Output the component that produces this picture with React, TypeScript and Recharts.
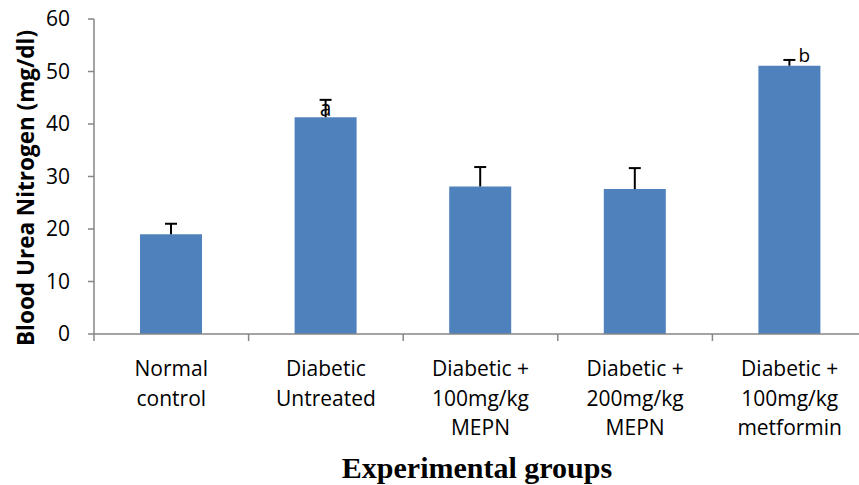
import React from "react";
import { BarChart, Bar, XAxis, YAxis } from "recharts";

const categories = [
  "Normal\ncontrol",
  "Diabetic\nUntreated",
  "Diabetic +\n100mg/kg\nMEPN",
  "Diabetic +\n200mg/kg\nMEPN",
  "Diabetic +\n100mg/kg\nmetformin",
];
const bunValues = [19.0, 41.3, 28.1, 27.6, 51.1];
const bunErrors = [2.0, 3.3, 3.7, 4.0, 1.1];
const sigLabels = ["", "a", "", "", "b"];
const yTicks = [0, 10, 20, 30, 40, 50, 60];

const data = categories.map((name, i) => ({
  name,
  value: bunValues[i],
  err: bunErrors[i],
  sig: sigLabels[i],
}));

const FONT = "'Open Sans', sans-serif";
const AXIS_COLOR = "#868686";

const CategoryTick = (props: any) => {
  const { x, y, payload, index, width, visibleTicksCount } = props;
  const lines = String(payload.value).split("\n");
  const half = width / visibleTicksCount / 2;
  const axisY = y - 8;
  return (
    <g>
      <line x1={x - half} y1={axisY} x2={x - half} y2={axisY + 7} stroke={AXIS_COLOR} strokeWidth={1.5} />
      {index === visibleTicksCount - 1 && (
        <line x1={x + half} y1={axisY} x2={x + half} y2={axisY + 7} stroke={AXIS_COLOR} strokeWidth={1.5} />
      )}
      <text x={x} y={y} textAnchor="middle" fontFamily={FONT} fontSize={21} fill="#000">
        {lines.map((l, i) => (
          <tspan key={i} x={x} y={y + 34 + i * 29.5}>
            {l}
          </tspan>
        ))}
      </text>
    </g>
  );
};

const ErrorShape = (props: any) => {
  const { x, y, width, height, payload } = props;
  const cx = x + width / 2;
  const base = y + height;
  const sig = payload.sig;
  return (
    <g>
      <line x1={cx} y1={base} x2={cx} y2={y} stroke="#000" strokeWidth={2} />
      <line x1={cx - 6} y1={y} x2={cx + 6} y2={y} stroke="#000" strokeWidth={2} />
      {sig === "a" && (
        <text x={cx} y={base - 1} textAnchor="middle" fontFamily={FONT} fontSize={21} fill="#000">
          {sig}
        </text>
      )}
      {sig === "b" && (
        <text x={cx + 9} y={y + 2} textAnchor="start" fontFamily={FONT} fontSize={19} fill="#000">
          {sig}
        </text>
      )}
    </g>
  );
};

const YTitle = () => (
  <text
    x={17}
    y={180}
    transform="rotate(-90 17 180)"
    textAnchor="middle"
    dominantBaseline="central"
    fontFamily={FONT}
    fontWeight="bold"
    fontSize={22.5}
    fill="#000"
  >
    Blood Urea Nitrogen (mg/dl)
  </text>
);

const XTitle = () => (
  <text
    x={469}
    y={470}
    textAnchor="middle"
    fontFamily="'Liberation Serif', 'Times New Roman', serif"
    fontWeight="bold"
    fontSize={30}
    fill="#000"
  >
    Experimental groups
  </text>
);

export default function App() {
  return (
    <div
      style={{
        position: "absolute",
        left: 8,
        top: 8,
        width: 851,
        height: 477,
        overflow: "hidden",
        background: "#fff",
      }}
    >
      <BarChart
        width={880}
        height={477}
        data={data}
        margin={{ top: 11, right: 21, left: 0, bottom: 0 }}
      >
        <XAxis
          dataKey="name"
          interval={0}
          axisLine={{ stroke: AXIS_COLOR, strokeWidth: 1.5 }}
          tickLine={false}
          tick={<CategoryTick />}
          height={151}
          label={<XTitle />}
        />
        <YAxis
          domain={[0, 60]}
          ticks={yTicks}
          width={86}
          tickSize={6}
          tickMargin={18}
          interval={0}
          axisLine={{ stroke: AXIS_COLOR, strokeWidth: 1.5 }}
          tickLine={{ stroke: AXIS_COLOR, strokeWidth: 1.5 }}
          tick={{ fontFamily: FONT, fontSize: 21, fill: "#000" }}
          label={<YTitle />}
        />
        <Bar
          dataKey="value"
          stackId="s"
          fill="#4F81BD"
          barSize={62}
          isAnimationActive={false}
        />
        <Bar
          dataKey="err"
          stackId="s"
          barSize={62}
          shape={<ErrorShape />}
          isAnimationActive={false}
        />
      </BarChart>
    </div>
  );
}
